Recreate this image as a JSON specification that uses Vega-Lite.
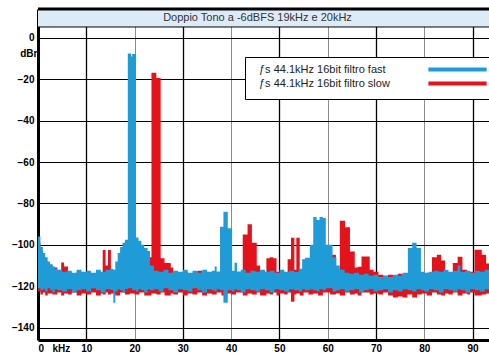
{
  "$schema": "https://vega.github.io/schema/vega-lite/v6.json",
  "autosize": {"type": "none"},
  "padding": {"left": 38, "top": 9, "right": 0, "bottom": 18},
  "width": 451,
  "height": 331,
  "background": "white",
  "config": {"view": {"stroke": null}},
  "title": {"text": "Doppio Tono a -6dBFS 19kHz e 20kHz", "font": "Liberation Sans", "fontSize": 11, "fontWeight": "normal", "color": "#333", "anchor": "middle", "offset": -15, "dx": -6},
  "datasets": {
    "spec": [
      {"s":"fast","f":0,"hi":-96,"lo":-121},
      {"s":"fast","f":0.5,"hi":-101,"lo":-122},
      {"s":"fast","f":1,"hi":-104,"lo":-121.5},
      {"s":"fast","f":1.5,"hi":-106,"lo":-122.5},
      {"s":"fast","f":2,"hi":-108,"lo":-121},
      {"s":"fast","f":2.5,"hi":-109.5,"lo":-122},
      {"s":"fast","f":3,"hi":-110.5,"lo":-123},
      {"s":"fast","f":3.5,"hi":-111.5,"lo":-121.5},
      {"s":"fast","f":4,"hi":-112,"lo":-122},
      {"s":"fast","f":5,"hi":-113,"lo":-122.5},
      {"s":"fast","f":6,"hi":-112.5,"lo":-121.5},
      {"s":"fast","f":7,"hi":-113.5,"lo":-123},
      {"s":"fast","f":8,"hi":-112,"lo":-122},
      {"s":"fast","f":9,"hi":-113,"lo":-121.5},
      {"s":"fast","f":10,"hi":-112.5,"lo":-122.5},
      {"s":"fast","f":11,"hi":-113.5,"lo":-121},
      {"s":"fast","f":12,"hi":-112,"lo":-122},
      {"s":"fast","f":13,"hi":-113,"lo":-123},
      {"s":"fast","f":14,"hi":-112,"lo":-121.5},
      {"s":"fast","f":15,"hi":-111.5,"lo":-122},
      {"s":"fast","f":15.6,"hi":-112,"lo":-128},
      {"s":"fast","f":16,"hi":-108,"lo":-122.5},
      {"s":"fast","f":16.5,"hi":-104,"lo":-121.5},
      {"s":"fast","f":17,"hi":-101,"lo":-122},
      {"s":"fast","f":17.5,"hi":-99,"lo":-123},
      {"s":"fast","f":18,"hi":-97.5,"lo":-121.5},
      {"s":"fast","f":18.6,"hi":-7.5,"lo":-121},
      {"s":"fast","f":19.3,"hi":-9,"lo":-121},
      {"s":"fast","f":19.5,"hi":-7.7,"lo":-122},
      {"s":"fast","f":20.3,"hi":-96.5,"lo":-122.5},
      {"s":"fast","f":20.8,"hi":-98,"lo":-121.5},
      {"s":"fast","f":21.4,"hi":-100,"lo":-122},
      {"s":"fast","f":22,"hi":-101.5,"lo":-123},
      {"s":"fast","f":22.7,"hi":-103,"lo":-121.5},
      {"s":"fast","f":23.2,"hi":-110,"lo":-122},
      {"s":"fast","f":24,"hi":-112.5,"lo":-121.5},
      {"s":"fast","f":25,"hi":-113,"lo":-122.5},
      {"s":"fast","f":26,"hi":-112,"lo":-121},
      {"s":"fast","f":27,"hi":-113.5,"lo":-122},
      {"s":"fast","f":28,"hi":-112.5,"lo":-123},
      {"s":"fast","f":29,"hi":-113,"lo":-121.5},
      {"s":"fast","f":30,"hi":-112,"lo":-122},
      {"s":"fast","f":31,"hi":-113.5,"lo":-122.5},
      {"s":"fast","f":32,"hi":-112.5,"lo":-121},
      {"s":"fast","f":33,"hi":-113.5,"lo":-122},
      {"s":"fast","f":34,"hi":-112,"lo":-123},
      {"s":"fast","f":35,"hi":-113,"lo":-121.5},
      {"s":"fast","f":36,"hi":-112.5,"lo":-122},
      {"s":"fast","f":36.6,"hi":-110.5,"lo":-122.5},
      {"s":"fast","f":37,"hi":-113,"lo":-121.5},
      {"s":"fast","f":37.7,"hi":-91.3,"lo":-122},
      {"s":"fast","f":38.4,"hi":-84,"lo":-128},
      {"s":"fast","f":39.3,"hi":-92,"lo":-122},
      {"s":"fast","f":40.2,"hi":-112.5,"lo":-122.5},
      {"s":"fast","f":40.7,"hi":-108.7,"lo":-121.5},
      {"s":"fast","f":41.2,"hi":-113,"lo":-122},
      {"s":"fast","f":42,"hi":-112,"lo":-123},
      {"s":"fast","f":43,"hi":-113.5,"lo":-121.5},
      {"s":"fast","f":44,"hi":-112.5,"lo":-122},
      {"s":"fast","f":45,"hi":-113,"lo":-122.5},
      {"s":"fast","f":46,"hi":-112,"lo":-121.5},
      {"s":"fast","f":47,"hi":-113,"lo":-122},
      {"s":"fast","f":48,"hi":-112.5,"lo":-123},
      {"s":"fast","f":49,"hi":-113.5,"lo":-121.5},
      {"s":"fast","f":50,"hi":-112,"lo":-122},
      {"s":"fast","f":51,"hi":-113,"lo":-122.5},
      {"s":"fast","f":52,"hi":-112.5,"lo":-121.5},
      {"s":"fast","f":53,"hi":-113,"lo":-122},
      {"s":"fast","f":54,"hi":-111.5,"lo":-122.5},
      {"s":"fast","f":54.7,"hi":-107,"lo":-121.5},
      {"s":"fast","f":55.3,"hi":-106.3,"lo":-122},
      {"s":"fast","f":56.3,"hi":-100,"lo":-121.5},
      {"s":"fast","f":57,"hi":-86.5,"lo":-122},
      {"s":"fast","f":57.7,"hi":-88,"lo":-122.5},
      {"s":"fast","f":58.3,"hi":-86.5,"lo":-121.5},
      {"s":"fast","f":59,"hi":-87,"lo":-122},
      {"s":"fast","f":59.6,"hi":-100,"lo":-121},
      {"s":"fast","f":61,"hi":-106,"lo":-122.5},
      {"s":"fast","f":61.8,"hi":-110,"lo":-122},
      {"s":"fast","f":62.5,"hi":-112,"lo":-121.5},
      {"s":"fast","f":63.5,"hi":-113.5,"lo":-122.5},
      {"s":"fast","f":64.5,"hi":-114,"lo":-122},
      {"s":"fast","f":65.5,"hi":-113.5,"lo":-121.5},
      {"s":"fast","f":66.5,"hi":-114.5,"lo":-123},
      {"s":"fast","f":67.5,"hi":-114,"lo":-122},
      {"s":"fast","f":68.5,"hi":-115,"lo":-121.5},
      {"s":"fast","f":69.5,"hi":-114.5,"lo":-122.5},
      {"s":"fast","f":70.5,"hi":-115.5,"lo":-122},
      {"s":"fast","f":71.5,"hi":-115,"lo":-121.5},
      {"s":"fast","f":72.5,"hi":-115.5,"lo":-123},
      {"s":"fast","f":73.5,"hi":-114.5,"lo":-122},
      {"s":"fast","f":74.5,"hi":-115,"lo":-122.5},
      {"s":"fast","f":75.5,"hi":-113.5,"lo":-121.5},
      {"s":"fast","f":76.6,"hi":-101.5,"lo":-122},
      {"s":"fast","f":77.5,"hi":-99,"lo":-122.5},
      {"s":"fast","f":78.4,"hi":-101.5,"lo":-121.5},
      {"s":"fast","f":79.3,"hi":-113,"lo":-122},
      {"s":"fast","f":80,"hi":-113.5,"lo":-122.5},
      {"s":"fast","f":81,"hi":-113,"lo":-121.5},
      {"s":"fast","f":82,"hi":-112.5,"lo":-122},
      {"s":"fast","f":83,"hi":-113,"lo":-123},
      {"s":"fast","f":84,"hi":-112,"lo":-121.5},
      {"s":"fast","f":85,"hi":-113,"lo":-122},
      {"s":"fast","f":86,"hi":-112.5,"lo":-122.5},
      {"s":"fast","f":86.9,"hi":-110,"lo":-121.5},
      {"s":"fast","f":87.5,"hi":-113,"lo":-122},
      {"s":"fast","f":88.5,"hi":-112.5,"lo":-123},
      {"s":"fast","f":89.5,"hi":-113.5,"lo":-121.5},
      {"s":"fast","f":90.5,"hi":-112.5,"lo":-122},
      {"s":"fast","f":91.5,"hi":-113,"lo":-122.5},
      {"s":"fast","f":92.5,"hi":-112,"lo":-121.5},
      {"s":"fast","f":93.4,"hi":-112,"lo":-121.5},
      {"s":"slow","f":0,"hi":-99,"lo":-122.5},
      {"s":"slow","f":0.5,"hi":-103,"lo":-124},
      {"s":"slow","f":1,"hi":-106,"lo":-123},
      {"s":"slow","f":1.5,"hi":-108,"lo":-124.5},
      {"s":"slow","f":2,"hi":-109.5,"lo":-123.5},
      {"s":"slow","f":3,"hi":-111,"lo":-124},
      {"s":"slow","f":4,"hi":-112.5,"lo":-123},
      {"s":"slow","f":4.8,"hi":-108.5,"lo":-124.5},
      {"s":"slow","f":5.4,"hi":-110.5,"lo":-123.5},
      {"s":"slow","f":6.2,"hi":-113.5,"lo":-124},
      {"s":"slow","f":7,"hi":-114,"lo":-123},
      {"s":"slow","f":8,"hi":-113,"lo":-124.5},
      {"s":"slow","f":9,"hi":-114,"lo":-123.5},
      {"s":"slow","f":10,"hi":-113.5,"lo":-124},
      {"s":"slow","f":11,"hi":-114.5,"lo":-123},
      {"s":"slow","f":12,"hi":-113,"lo":-124.5},
      {"s":"slow","f":13,"hi":-114,"lo":-123.5},
      {"s":"slow","f":13.4,"hi":-102.5,"lo":-124},
      {"s":"slow","f":14,"hi":-110,"lo":-123},
      {"s":"slow","f":14.5,"hi":-102.5,"lo":-124},
      {"s":"slow","f":15.1,"hi":-113,"lo":-123.5},
      {"s":"slow","f":16,"hi":-112.5,"lo":-124.5},
      {"s":"slow","f":17,"hi":-111,"lo":-123},
      {"s":"slow","f":18,"hi":-110,"lo":-124},
      {"s":"slow","f":19,"hi":-108,"lo":-123.5},
      {"s":"slow","f":20,"hi":-107,"lo":-124},
      {"s":"slow","f":21,"hi":-106.5,"lo":-123},
      {"s":"slow","f":22,"hi":-106,"lo":-124.5},
      {"s":"slow","f":23.5,"hi":-16.8,"lo":-123.5},
      {"s":"slow","f":24.5,"hi":-19.3,"lo":-124},
      {"s":"slow","f":25.4,"hi":-106.5,"lo":-123},
      {"s":"slow","f":26.2,"hi":-108.8,"lo":-124.5},
      {"s":"slow","f":27.5,"hi":-111,"lo":-123.5},
      {"s":"slow","f":28,"hi":-113.5,"lo":-124},
      {"s":"slow","f":29,"hi":-114,"lo":-123},
      {"s":"slow","f":30,"hi":-113,"lo":-124.5},
      {"s":"slow","f":31,"hi":-114.5,"lo":-123.5},
      {"s":"slow","f":32,"hi":-113.5,"lo":-124},
      {"s":"slow","f":33,"hi":-112.5,"lo":-123},
      {"s":"slow","f":34,"hi":-114,"lo":-124.5},
      {"s":"slow","f":35,"hi":-113.5,"lo":-123.5},
      {"s":"slow","f":36,"hi":-114.5,"lo":-124},
      {"s":"slow","f":37,"hi":-113,"lo":-123},
      {"s":"slow","f":38,"hi":-114,"lo":-124.5},
      {"s":"slow","f":39,"hi":-113.5,"lo":-123.5},
      {"s":"slow","f":40,"hi":-114,"lo":-124},
      {"s":"slow","f":41,"hi":-113,"lo":-123},
      {"s":"slow","f":42.4,"hi":-95,"lo":-124.5},
      {"s":"slow","f":43.4,"hi":-90,"lo":-123.5},
      {"s":"slow","f":44.3,"hi":-99,"lo":-124},
      {"s":"slow","f":45.3,"hi":-110,"lo":-123},
      {"s":"slow","f":46,"hi":-113.5,"lo":-124.5},
      {"s":"slow","f":47.3,"hi":-106.5,"lo":-123.5},
      {"s":"slow","f":48,"hi":-106,"lo":-124},
      {"s":"slow","f":48.7,"hi":-106.5,"lo":-123},
      {"s":"slow","f":49.4,"hi":-113,"lo":-124.5},
      {"s":"slow","f":50,"hi":-114,"lo":-123.5},
      {"s":"slow","f":51,"hi":-113.5,"lo":-124},
      {"s":"slow","f":51.7,"hi":-107,"lo":-123},
      {"s":"slow","f":52.4,"hi":-96.6,"lo":-127.5},
      {"s":"slow","f":53.1,"hi":-112,"lo":-124},
      {"s":"slow","f":53.5,"hi":-96.6,"lo":-123.5},
      {"s":"slow","f":54.2,"hi":-112,"lo":-124.5},
      {"s":"slow","f":55,"hi":-113.5,"lo":-123},
      {"s":"slow","f":56,"hi":-114,"lo":-124},
      {"s":"slow","f":57,"hi":-113,"lo":-123.5},
      {"s":"slow","f":58,"hi":-114,"lo":-124.5},
      {"s":"slow","f":59,"hi":-113.5,"lo":-123},
      {"s":"slow","f":60.5,"hi":-104.8,"lo":-124},
      {"s":"slow","f":61.7,"hi":-112,"lo":-123.5},
      {"s":"slow","f":62.5,"hi":-88.3,"lo":-124.5},
      {"s":"slow","f":63.6,"hi":-91.5,"lo":-123},
      {"s":"slow","f":64.6,"hi":-103.2,"lo":-124},
      {"s":"slow","f":65.6,"hi":-111,"lo":-123.5},
      {"s":"slow","f":66.2,"hi":-110.6,"lo":-124.5},
      {"s":"slow","f":67,"hi":-105.6,"lo":-123},
      {"s":"slow","f":68.7,"hi":-112,"lo":-124},
      {"s":"slow","f":69.5,"hi":-113,"lo":-123.5},
      {"s":"slow","f":70.5,"hi":-114.5,"lo":-124},
      {"s":"slow","f":71.5,"hi":-115,"lo":-123},
      {"s":"slow","f":72.5,"hi":-114.5,"lo":-124.5},
      {"s":"slow","f":73.5,"hi":-115,"lo":-125.5},
      {"s":"slow","f":74.5,"hi":-114,"lo":-125},
      {"s":"slow","f":75.5,"hi":-115,"lo":-125.5},
      {"s":"slow","f":76.5,"hi":-114.5,"lo":-124},
      {"s":"slow","f":77.5,"hi":-115,"lo":-125.5},
      {"s":"slow","f":78.5,"hi":-114,"lo":-124},
      {"s":"slow","f":79.5,"hi":-114.5,"lo":-123.5},
      {"s":"slow","f":80.5,"hi":-113.5,"lo":-124.5},
      {"s":"slow","f":81.6,"hi":-106,"lo":-123},
      {"s":"slow","f":82.6,"hi":-104.8,"lo":-124},
      {"s":"slow","f":83.5,"hi":-107.6,"lo":-124.5},
      {"s":"slow","f":84.3,"hi":-113,"lo":-123.5},
      {"s":"slow","f":85,"hi":-113.5,"lo":-124},
      {"s":"slow","f":85.9,"hi":-108.8,"lo":-123},
      {"s":"slow","f":86.9,"hi":-105.8,"lo":-124.5},
      {"s":"slow","f":87.9,"hi":-112,"lo":-123.5},
      {"s":"slow","f":88.9,"hi":-113.5,"lo":-124},
      {"s":"slow","f":89.5,"hi":-113,"lo":-123},
      {"s":"slow","f":90.4,"hi":-102.4,"lo":-124.5},
      {"s":"slow","f":91.9,"hi":-104.8,"lo":-124},
      {"s":"slow","f":92.8,"hi":-109,"lo":-123.5},
      {"s":"slow","f":93.4,"hi":-109,"lo":-123.5}
    ]
  },
  "layer": [
    {
      "data": {"name": "spec"},
      "transform": [{"filter": "datum.s == 'slow'"}],
      "mark": {"type": "area", "interpolate": "step-after"},
      "encoding": {
        "x": {"field": "f", "type": "quantitative", "scale": {"domain": [0, 93.4], "nice": false},
          "axis": {"values": [0,10,20,30,40,50,60,70,80,90], "title": null, "grid": true,
            "gridColor": {"condition": {"test": "datum.value % 20 == 10", "value": "#000000"}, "value": "#8c8c8c"},
            "gridWidth": {"condition": {"test": "datum.value % 20 == 10", "value": 1.3}, "value": 1},
            "domainColor": "#000", "domainWidth": 3, "ticks": false, "labelPadding": 3,
            "labelFont": "Liberation Sans", "labelFontSize": 10, "labelFontWeight": "bold", "labelColor": "#000",
            "labelExpr": "datum.value == 0 ? '0\u00a0\u00a0\u00a0kHz' : datum.label",
            "labelAlign": {"condition": {"test": "datum.value == 0", "value": "left"}, "value": "center"},
            "labelDx": {"condition": {"test": "datum.value == 0", "value": -2}, "value": 0}}},
        "y": {"field": "hi", "type": "quantitative", "scale": {"domain": [-146, 14], "nice": false, "zero": false},
          "axis": {"values": [0,-20,-40,-60,-80,-100,-120,-140], "grid": true, "gridColor": "#000", "gridWidth": 1.2,
            "domainColor": "#000", "domainWidth": 3, "ticks": false, "labelPadding": 4,
            "labelFont": "Liberation Sans", "labelFontSize": 10, "labelFontWeight": "bold", "labelColor": "#000",
            "title": "dBr", "titleAngle": 0, "titleAlign": "right", "titleBaseline": "alphabetic", "titleX": -1, "titleY": 47,
            "titleFont": "Liberation Sans", "titleFontSize": 10, "titleFontWeight": "bold", "titleColor": "#000"}},
        "y2": {"field": "lo"},
        "color": {"field": "s", "type": "nominal",
          "scale": {"domain": ["fast", "slow"], "range": ["#1f9bd7", "#e3121b"]},
          "legend": {"orient": "none", "legendX": 207, "legendY": 48, "title": null,
            "fillColor": "white", "strokeColor": "#000", "padding": 7,
            "symbolType": "M-9.7,0H9.7", "symbolSize": 36, "symbolStrokeWidth": 4,
            "symbolOffset": 200, "labelOffset": -204, "rowPadding": -4,
            "labelFont": "Liberation Sans", "labelFontSize": 11, "labelColor": "#222", "labelLimit": 300,
            "labelExpr": "'ƒs 44.1kHz 16bit filtro ' + datum.label",
            "encode": {"symbols": {"update": {"stroke": {"scale": "color", "field": "value"}, "strokeWidth": {"value": 4}}}}}}
      }
    },
    {
      "data": {"name": "spec"},
      "transform": [{"filter": "datum.s == 'fast'"}],
      "mark": {"type": "area", "interpolate": "step-after"},
      "encoding": {
        "x": {"field": "f", "type": "quantitative"},
        "y": {"field": "hi", "type": "quantitative"},
        "y2": {"field": "lo"},
        "color": {"field": "s", "type": "nominal"}
      }
    },
    {
      "data": {"values": [{}]},
      "mark": {"type": "rect", "fill": "#dcebf7"},
      "encoding": {"x": {"value": 0}, "x2": {"value": "width"}, "y": {"datum": 14}, "y2": {"datum": 5.3}}
    },
    {
      "data": {"values": [{}]},
      "mark": {"type": "rule", "color": "#000", "strokeWidth": 1},
      "encoding": {"y": {"datum": 5.3}}
    },
    {
      "data": {"values": [{}]},
      "mark": {"type": "rule", "color": "#000", "strokeWidth": 3},
      "encoding": {"y": {"datum": 14}}
    }
  ]
}
